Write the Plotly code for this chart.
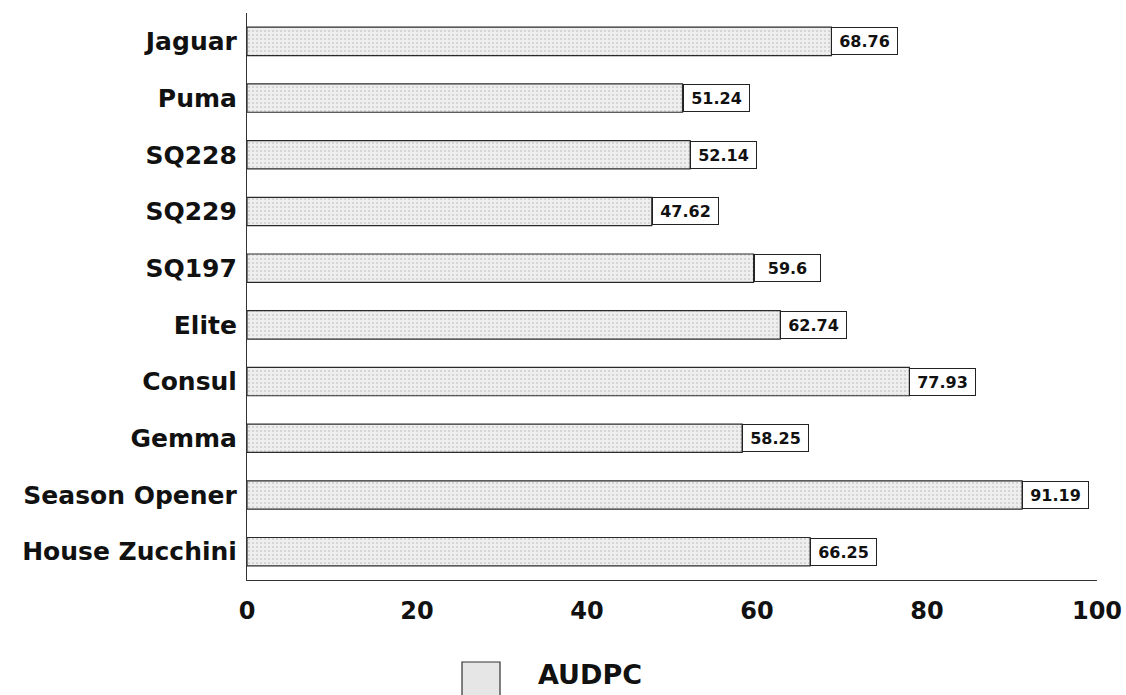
import plotly.graph_objects as go

categories = ["Jaguar", "Puma", "SQ228", "SQ229", "SQ197", "Elite", "Consul",
              "Gemma", "Season Opener", "House Zucchini"]
audpc = [68.76, 51.24, 52.14, 47.62, 59.6, 62.74, 77.93, 58.25, 91.19, 66.25]
value_labels = ["68.76", "51.24", "52.14", "47.62", "59.6", "62.74", "77.93",
                "58.25", "91.19", "66.25"]
x_ticks = [0, 20, 40, 60, 80, 100]
series_name = "AUDPC"

W, H = 1126, 695
ML, MR, MT, MB = 247, 29, 13, 115
FONT = "DejaVu Sans, Verdana, sans-serif"

fig = go.Figure()
fig.add_trace(go.Bar(
    x=audpc, y=categories, orientation="h", name=series_name,
    marker=dict(color="#e9e9e9",
                line=dict(color="#2a2a2a", width=1.2),
                pattern=dict(shape=".", fgcolor="#b0b0b0", bgcolor="#eeeeee",
                             size=4, solidity=0.22)),
    width=0.5, showlegend=False,
))

annotations = []
for v, c, t in zip(audpc, categories, value_labels):
    annotations.append(dict(
        x=v, y=c, xref="x", yref="y", text="<b>%s</b>" % t, showarrow=False,
        xanchor="left", yanchor="middle", align="center",
        font=dict(family=FONT, size=16, color="#111"),
        bgcolor="white", bordercolor="#222", borderwidth=1, borderpad=1,
        width=63, height=24,
    ))

pw = W - ML - MR
ph = H - MT - MB
# legend swatch + text (below the axis)
lx0 = (462 - ML) / pw
lx1 = (500 - ML) / pw
ly0 = (H - MB - 662) / ph
ly1 = (H - MB - 697) / ph
shapes = [dict(type="rect", xref="paper", yref="paper", x0=lx0, x1=lx1, y0=ly1, y1=ly0,
               fillcolor="#e6e6e6", line=dict(color="#333", width=1.2))]
annotations.append(dict(
    x=(536 - ML) / pw, y=(H - MB - 674) / ph, xref="paper", yref="paper",
    text="<b>%s</b>" % series_name, showarrow=False, xanchor="left", yanchor="middle",
    font=dict(family=FONT, size=27, color="#111"),
))

fig.update_layout(
    width=W, height=H,
    margin=dict(l=ML, r=MR, t=MT, b=MB, pad=0, autoexpand=False),
    paper_bgcolor="white", plot_bgcolor="white",
    font=dict(family=FONT, color="#111"),
    bargap=0.5,
    annotations=annotations,
    shapes=shapes,
    showlegend=False,
)
fig.update_xaxes(
    range=[0, 100], tickvals=x_ticks, ticktext=["<b>%d</b>" % t for t in x_ticks],
    tickfont=dict(family=FONT, size=24, color="#111"),
    showgrid=False, zeroline=False, showline=True, linecolor="#333", linewidth=1.2,
    ticks="", ticklabelstandoff=9, automargin=False,
)
fig.update_yaxes(
    categoryorder="array", categoryarray=categories, autorange="reversed",
    tickvals=categories, ticktext=["<b>%s</b>" % c for c in categories],
    tickfont=dict(family=FONT, size=25, color="#111"),
    showgrid=False, zeroline=False, showline=True, linecolor="#333", linewidth=1.2,
    ticks="", ticklabelstandoff=4, automargin=False,
)

fig.write_html("out.html")
